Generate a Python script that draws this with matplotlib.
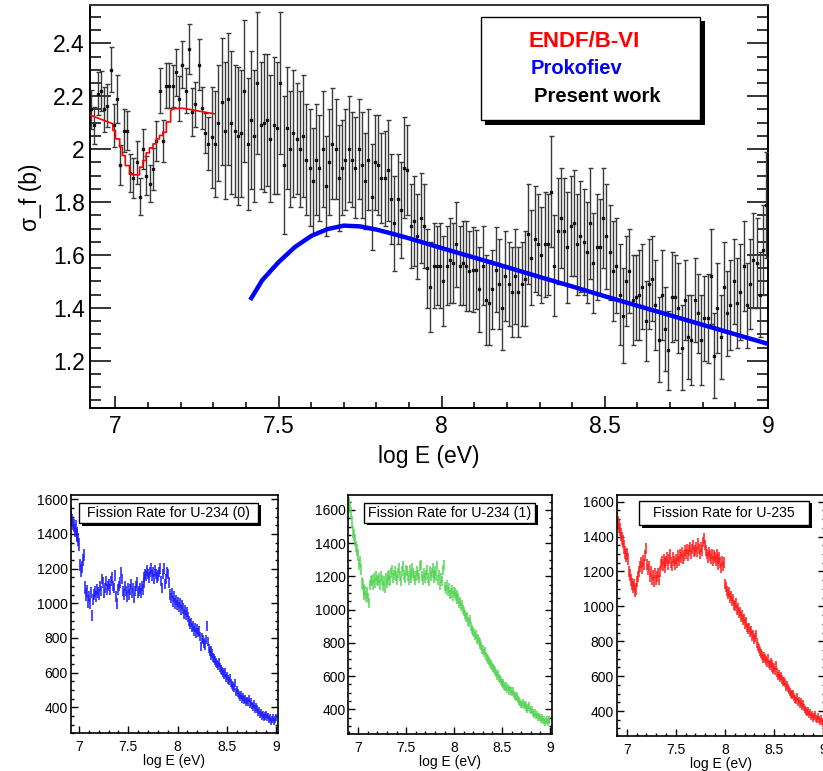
import numpy as np
import matplotlib
matplotlib.use("Agg")
import matplotlib.pyplot as plt
from matplotlib.patches import Rectangle
from matplotlib.ticker import MultipleLocator

plt.rcParams['font.family'] = ['Liberation Sans', 'DejaVu Sans']

# ---------------- main panel: fission cross section ----------------
bin_width = 0.01
xs_start = 6.925  # centre of first bin (log10 E)

xs_values = [
    # 6.925 - 7.315
    2.15, 2.09, 2.21, 2.22, 2.15, 2.165, 2.30, 2.09, 2.19, 1.94,
    2.07, 2.07, 1.91, 1.89, 1.95, 1.82, 2.00, 1.90, 1.87, 1.925,
    2.03, 2.22, 2.03, 2.24, 2.24, 2.24, 2.29, 2.19, 2.32, 2.22,
    2.38, 2.14, 2.17, 2.32, 2.155, 2.06, 2.02, 2.045, 2.02, 2.10,
    # 7.325 - 7.735
    2.18, 2.07, 2.19, 2.10, 2.07, 2.05, 2.06, 2.22, 2.02, 2.11,
    2.05, 2.25, 2.09, 2.10, 2.11, 2.04, 2.09, 2.08, 2.25, 1.94,
    2.08, 2.00, 2.06, 2.04, 2.00, 2.05, 1.96, 1.93, 1.88, 1.96,
    1.93, 2.00, 1.86, 1.95, 2.02, 2.00, 1.89, 1.93, 1.96, 2.00,
    1.96, 1.93,
    # 7.745 - 8.155
    2.00, 1.94, 1.88, 1.96, 1.82, 1.95, 1.94, 1.89, 1.89, 1.92,
    1.81, 1.72, 1.81, 1.77, 1.93, 1.92, 1.71, 1.73, 1.67, 1.74,
    1.71, 1.55, 1.48, 1.56, 1.56, 1.56, 1.50, 1.56, 1.58, 1.57,
    1.64, 1.56, 1.57, 1.56, 1.54, 1.545, 1.545, 1.47, 1.56, 1.43,
    1.42, 1.47,
    # 8.165 - 8.555
    1.545, 1.49, 1.40, 1.52, 1.49, 1.46, 1.52, 1.46, 1.49, 1.51,
    1.68, 1.59, 1.66, 1.64, 1.60, 1.64, 1.64, 1.84, 1.56, 1.69,
    1.74, 1.69, 1.63, 1.71, 1.72, 1.64, 1.67, 1.65, 1.61, 1.72,
    1.57, 1.63, 1.63, 1.74, 1.67, 1.61, 1.54, 1.56, 1.45, 1.37,
    # 8.565 - 8.995
    1.50, 1.54, 1.43, 1.44, 1.45, 1.48, 1.35, 1.49, 1.51, 1.41,
    1.28, 1.45, 1.32, 1.24, 1.44, 1.44, 1.40, 1.25, 1.43, 1.29,
    1.28, 1.43, 1.38, 1.28, 1.36, 1.36, 1.52, 1.22, 1.40, 1.29,
    1.48, 1.38, 1.41, 1.50, 1.42, 1.46, 1.56, 1.41, 1.49, 1.58,
    1.57, 1.45, 1.62, 1.79,
]

xs_errors = [
    0.075, 0.07, 0.08, 0.075, 0.085, 0.08, 0.085, 0.08, 0.09, 0.075,
    0.08, 0.075, 0.07, 0.075, 0.08, 0.07, 0.075, 0.075, 0.07, 0.08,
    0.075, 0.085, 0.08, 0.085, 0.085, 0.08, 0.09, 0.085, 0.09, 0.085,
    0.095, 0.09, 0.085, 0.095, 0.08, 0.075, 0.10, 0.19, 0.20, 0.22,
    0.24, 0.26, 0.25, 0.27, 0.25, 0.26, 0.24, 0.27, 0.25, 0.26,
    0.25, 0.27, 0.24, 0.26, 0.25, 0.24, 0.26, 0.25, 0.27, 0.26,
    0.23, 0.22, 0.24, 0.21, 0.22, 0.23, 0.21, 0.22, 0.20, 0.21,
    0.20, 0.22, 0.19, 0.20, 0.21, 0.19, 0.20, 0.18, 0.19, 0.20,
    0.18, 0.19,
    0.19, 0.20, 0.18, 0.19, 0.20, 0.18, 0.19, 0.17, 0.18, 0.19,
    0.17, 0.18, 0.17, 0.18, 0.19, 0.17, 0.16, 0.17, 0.16, 0.17,
    0.16, 0.15, 0.17, 0.16, 0.15, 0.16, 0.17, 0.15, 0.16, 0.15,
    0.16, 0.15, 0.16, 0.17, 0.15, 0.16, 0.15, 0.16, 0.15, 0.17,
    0.16, 0.15,
    0.16, 0.17, 0.16, 0.17, 0.16, 0.17, 0.18, 0.17, 0.16, 0.18,
    0.19, 0.18, 0.20, 0.19, 0.18, 0.20, 0.19, 0.21, 0.19, 0.20,
    0.19, 0.20, 0.21, 0.19, 0.20, 0.19, 0.21, 0.20, 0.19, 0.21,
    0.19, 0.20, 0.18, 0.19, 0.20, 0.18, 0.19, 0.18, 0.19, 0.18,
    0.17, 0.16, 0.17, 0.16, 0.17, 0.16, 0.15, 0.17, 0.16, 0.17,
    0.16, 0.17, 0.16, 0.15, 0.17, 0.16, 0.17, 0.16, 0.15, 0.16,
    0.17, 0.16, 0.15, 0.17, 0.16, 0.17, 0.18, 0.16, 0.17, 0.16,
    0.17, 0.16, 0.17, 0.16, 0.17, 0.18, 0.17, 0.16, 0.17, 0.18,
    0.17, 0.16, 0.17, 0.20,
]

# ENDF/B-VI evaluation (log10 E, sigma_f)
endf_logE = [6.924, 6.992, 6.992, 7.000, 7.000, 7.013, 7.013, 7.021, 7.021,
             7.030, 7.030, 7.043, 7.043, 7.052, 7.052, 7.074, 7.074, 7.084,
             7.084, 7.094, 7.094, 7.104, 7.104, 7.115, 7.115, 7.125, 7.125,
             7.135, 7.135, 7.145, 7.145, 7.156, 7.156, 7.169, 7.169, 7.180,
             7.205, 7.302]
endf_xs = [2.128, 2.096, 2.071, 2.071, 2.039, 2.039, 2.008, 2.008, 1.976,
           1.976, 1.938, 1.938, 1.907, 1.907, 1.903, 1.903, 1.932, 1.932,
           1.957, 1.957, 1.986, 1.986, 2.005, 2.005, 2.020, 2.020, 2.039,
           2.039, 2.052, 2.052, 2.064, 2.064, 2.103, 2.103, 2.147, 2.153,
           2.155, 2.134]

# Prokofiev systematics
prok_logE = [7.413, 7.45, 7.50, 7.55, 7.60, 7.65, 7.70, 7.75, 7.80, 7.85,
             7.90, 8.0, 8.1, 8.2, 8.3, 8.4, 8.5, 8.6, 8.7, 8.8, 8.9, 9.0]
prok_xs = [1.43, 1.505, 1.573, 1.63, 1.672, 1.698, 1.711, 1.708, 1.696, 1.680,
           1.663, 1.626, 1.590, 1.554, 1.517, 1.481, 1.444, 1.408, 1.372,
           1.336, 1.300, 1.264]

legend_entries = ["ENDF/B-VI", "Prokofiev", "Present work"]
legend_colors = ["#ff0000", "#0000ff", "#000000"]

# ---------------- lower panels: fission rates ----------------
rate_start = 6.905  # centre of first bin

rate_u234_0 = [
    1560, 1530, 1480, 1460, 1450, 1420, 1440, 1400, 1390, 1370,
    1340, 1220, 1190, 1210, 1250, 1280, 1090, 1050, 1070, 1010,
    1040, 1000, 1060, 930, 1020, 1050, 1070, 1040, 1080, 1060,
    1050, 1100, 1070, 1140, 1120, 1060, 1090, 1130, 1080, 1100,
    1110, 1080, 1130, 1150, 1100, 1090, 1160, 1040, 1000, 1080,
    1100, 1120, 1180, 1140, 1070, 1050, 1100, 1070, 1040, 1090,
    1050, 1080, 1110, 1060, 1090, 1030, 1070, 1100, 1120, 1060,
    1070, 1090, 1060, 1100, 1080, 1120, 1150, 1170, 1160, 1190,
    1170, 1150, 1180, 1200, 1160, 1180, 1140, 1190, 1170, 1150,
    1160, 1180, 1200, 1130, 1090, 1170, 1200, 1110, 1140, 1180,
    1170, 1120, 1050, 1030, 1060, 1010, 1040, 1000, 1020, 990,
    1010, 980, 1000, 960, 990, 970, 940, 960, 930, 950,
    920, 900, 880, 890, 860, 870, 840, 860, 830, 850,
    830, 840, 810, 750, 800, 790, 770, 760, 790, 870,
    780, 740, 720, 730, 700, 710, 690, 680, 670, 660,
    650, 640, 660, 630, 620, 610, 600, 590, 600, 570,
    580, 560, 550, 570, 540, 530, 520, 510, 540, 490,
    500, 480, 470, 460, 470, 450, 460, 440, 450, 430,
    440, 430, 450, 420, 430, 410, 400, 420, 390, 400,
    390, 370, 380, 360, 370, 350, 360, 340, 350, 360,
    340, 350, 330, 340, 320, 330, 340, 320, 330, 340,
]

rate_u234_1 = [
    1640, 1620, 1580, 1530, 1470, 1450, 1420, 1380, 1360, 1330,
    1270, 1290, 1240, 1160, 1150, 1120, 1090, 1110, 1080, 1100,
    1070, 1040, 1150, 1170, 1180, 1150, 1190, 1160, 1200, 1180,
    1170, 1190, 1150, 1200, 1180, 1140, 1170, 1130, 1190, 1160,
    1200, 1180, 1210, 1170, 1220, 1240, 1190, 1210, 1230, 1200,
    1180, 1220, 1250, 1200, 1170, 1230, 1260, 1210, 1190, 1240,
    1230, 1200, 1180, 1240, 1210, 1190, 1250, 1220, 1200, 1180,
    1200, 1230, 1210, 1190, 1260, 1270, 1200, 1180, 1220, 1190,
    1210, 1240, 1190, 1170, 1230, 1200, 1220, 1250, 1190, 1210,
    1230, 1200, 1260, 1180, 1210, 1150, 1190, 1170, 1240, 1270,
    1140, 1120, 1150, 1110, 1130, 1090, 1100, 1120, 1080, 1110,
    1100, 1080, 1090, 1060, 1070, 1040, 1050, 1020, 1030, 1000,
    990, 970, 950, 960, 930, 920, 940, 900, 880, 870,
    860, 840, 850, 820, 830, 810, 800, 790, 780, 760,
    760, 740, 750, 720, 710, 700, 690, 680, 670, 660,
    650, 640, 630, 620, 600, 610, 590, 580, 570, 560,
    560, 550, 540, 530, 540, 520, 530, 510, 520, 510,
    500, 510, 490, 480, 470, 480, 460, 450, 440, 430,
    430, 440, 420, 430, 410, 420, 400, 410, 420, 400,
    390, 400, 380, 370, 380, 360, 370, 350, 360, 350,
    340, 350, 330, 340, 320, 330, 340, 320, 330, 340,
]

rate_u235 = [
    1560, 1480, 1460, 1440, 1410, 1390, 1370, 1340, 1310, 1290,
    1300, 1270, 1200, 1180, 1150, 1130, 1110, 1120, 1090, 1100,
    1140, 1170, 1200, 1230, 1250, 1220, 1260, 1240, 1290, 1330,
    1240, 1210, 1230, 1170, 1200, 1150, 1180, 1140, 1190, 1150,
    1170, 1190, 1150, 1200, 1240, 1260, 1230, 1270, 1250, 1220,
    1260, 1280, 1240, 1270, 1300, 1250, 1230, 1280, 1260, 1240,
    1270, 1250, 1290, 1260, 1300, 1280, 1310, 1270, 1290, 1320,
    1300, 1330, 1290, 1320, 1340, 1300, 1330, 1350, 1310, 1320,
    1340, 1310, 1360, 1330, 1300, 1340, 1320, 1370, 1390, 1350,
    1320, 1300, 1280, 1310, 1290, 1270, 1300, 1260, 1290, 1280,
    1260, 1300, 1270, 1240, 1280, 1250, 1220, 1260, 1230, 1250,
    1130, 1110, 1090, 1070, 1080, 1050, 1060, 1030, 1040, 1010,
    1000, 1020, 980, 990, 960, 970, 940, 950, 920, 930,
    900, 910, 880, 870, 880, 850, 860, 830, 840, 810,
    820, 840, 790, 770, 760, 740, 730, 720, 700, 710,
    700, 690, 680, 700, 670, 660, 680, 650, 670, 640,
    650, 630, 660, 620, 600, 610, 590, 600, 580, 570,
    570, 560, 540, 550, 530, 520, 510, 500, 490, 500,
    480, 470, 460, 480, 450, 460, 440, 450, 430, 440,
    420, 410, 400, 390, 400, 380, 390, 370, 380, 360,
    370, 380, 360, 350, 370, 350, 340, 360, 340, 330,
]

# half-length of the error bars, one value per 0.1 in log E
rate_err_u234_0 = [38, 36, 32, 30, 30, 30, 30, 30, 30, 30, 30,
                   29, 28, 27, 26, 25, 24, 23, 22, 21, 20]
rate_err_u234_1 = [36, 34, 30, 30, 30, 30, 30, 30, 30, 30, 29,
                   28, 27, 26, 25, 24, 23, 22, 21, 20, 20]
rate_err_u235 = [38, 34, 32, 30, 30, 30, 30, 30, 30, 30, 30,
                 29, 28, 27, 26, 25, 24, 23, 22, 21, 20]

panel_titles = ["Fission Rate for U-234 (0)", "Fission Rate for U-234 (1)",
                "Fission Rate for U-235"]
panel_colors = ["#1a1aff", "#55d455", "#ff1a1a"]

# ---------------- figure ----------------
W, H = 823, 771
fig = plt.figure(figsize=(W / 100, H / 100), dpi=100)


def axes_px(x0, y0, x1, y1):
    return fig.add_axes([x0 / W, 1 - y1 / H, (x1 - x0) / W, (y1 - y0) / H])


def box_px(x0, y0, x1, y1, shadow):
    # drop shadow first, then the white framed box on top
    fig.patches.append(Rectangle(((x0 + shadow) / W, 1 - (y1 + shadow) / H),
                                 (x1 - x0) / W, (y1 - y0) / H,
                                 transform=fig.transFigure, facecolor="black",
                                 edgecolor="black", lw=0, zorder=5))
    fig.patches.append(Rectangle((x0 / W, 1 - y1 / H), (x1 - x0) / W, (y1 - y0) / H,
                                 transform=fig.transFigure, facecolor="white",
                                 edgecolor="black", lw=1.0, zorder=6))


# main panel
ax = axes_px(89.7, 5, 768, 408)
logE = xs_start + bin_width * np.arange(len(xs_values))
ax.errorbar(logE, xs_values, yerr=xs_errors, fmt="s", ms=1.5, mfc="#111111",
            mec="#111111", ecolor="#3a3a3a", elinewidth=1.0, capsize=1.8,
            capthick=1.0, zorder=3)
ax.plot(endf_logE, endf_xs, color="#ff0000", lw=1.2, zorder=4)
ax.plot(prok_logE, prok_xs, color="#0000ff", lw=3.2, zorder=4,
        solid_capstyle="butt")
ax.set_xlim(6.921, 9.0)
ax.set_ylim(1.0216, 2.545)
ax.xaxis.set_major_locator(MultipleLocator(0.5))
ax.xaxis.set_minor_locator(MultipleLocator(0.1))
ax.yaxis.set_major_locator(MultipleLocator(0.2))
ax.yaxis.set_minor_locator(MultipleLocator(0.05))
ax.xaxis.set_major_formatter(plt.FuncFormatter(lambda v, p: f"{v:g}"))
ax.yaxis.set_major_formatter(plt.FuncFormatter(lambda v, p: f"{v:g}"))
ax.tick_params(axis="y", which="major", direction="in", length=15, width=1.1,
               right=True, labelsize=16.5, pad=3.5)
ax.tick_params(axis="y", which="minor", direction="in", length=7.7, width=1.1,
               right=True)
ax.tick_params(axis="x", which="major", direction="in", length=8.4, width=1.1,
               labelsize=16.5, pad=5)
ax.tick_params(axis="x", which="minor", direction="in", length=4.3, width=1.1)
for s in ax.spines.values():
    s.set_linewidth(1.4)
ax.spines["top"].set_color("#3a3030")
ax.set_xlabel("log E (eV)", fontsize=16.5)
ax.set_ylabel("σ_f (b)", fontsize=16.5)
ax.xaxis.set_label_coords(0.5, -0.092)
ax.yaxis.set_label_coords(-0.071, 0.524)

# legend box of the main panel
box_px(480.7, 16.7, 700, 120, 4.5)
legend_pos = [(529, 41.7), (530.7, 69), (534, 96.7)]
legend_sizes = [16, 14.5, 14.5]
for label, col, (tx, ty), fs in zip(legend_entries, legend_colors, legend_pos, legend_sizes):
    fig.text(tx / W, 1 - ty / H, label, color=col, fontsize=fs,
             fontweight="bold", ha="left", va="center", zorder=7)

# lower panels
panel_rects = [(70.7, 495, 278, 733.3), (348.3, 495, 551.7, 734),
               (616.7, 495, 825, 736)]
panel_xlims = [(6.916, 9.02), (6.896, 9.018), (6.898, 9.02)]
panel_ylims = [(250, 1625), (251, 1690), (257, 1638)]
title_boxes = [(79, 502.7, 258, 523.3), (364, 502.7, 535, 522.7),
               (639.3, 500.7, 809.3, 525)]
rates = [rate_u234_0, rate_u234_1, rate_u235]
rate_errs = [rate_err_u234_0, rate_err_u234_1, rate_err_u235]

for rect, xl, yl, tb, rate, rerr, title, col in zip(
        panel_rects, panel_xlims, panel_ylims, title_boxes, rates, rate_errs,
        panel_titles, panel_colors):
    pax = axes_px(*rect)
    x = rate_start + bin_width * np.arange(len(rate))
    y = np.array(rate, dtype=float)
    e = np.repeat(rerr, 10)[:len(rate)]
    pax.vlines(x, y - e, y + e, color=col, lw=1.1)
    pax.set_xlim(*xl)
    pax.set_ylim(*yl)
    pax.xaxis.set_major_locator(MultipleLocator(0.5))
    pax.xaxis.set_minor_locator(MultipleLocator(0.1))
    pax.yaxis.set_major_locator(MultipleLocator(200))
    pax.yaxis.set_minor_locator(MultipleLocator(50))
    pax.xaxis.set_major_formatter(plt.FuncFormatter(lambda v, p: f"{v:g}"))
    pax.tick_params(axis="y", which="major", direction="in", length=5,
                    width=1.0, right=True, labelsize=10, pad=2)
    pax.tick_params(axis="y", which="minor", direction="in", length=2.5,
                    width=1.0, right=True)
    pax.tick_params(axis="x", which="major", direction="in", length=5,
                    width=1.0, labelsize=10, pad=5)
    pax.tick_params(axis="x", which="minor", direction="in", length=2.5,
                    width=1.0)
    for s in pax.spines.values():
        s.set_linewidth(1.2)
    pax.set_xlabel("log E (eV)", fontsize=10, labelpad=0)
    box_px(*tb, 2.5)
    fig.text((tb[0] + tb[2]) / 2 / W, 1 - (tb[1] + tb[3]) / 2 / H, title,
             fontsize=10.2, ha="center", va="center", zorder=7)

fig.savefig("out.png", dpi=100)
